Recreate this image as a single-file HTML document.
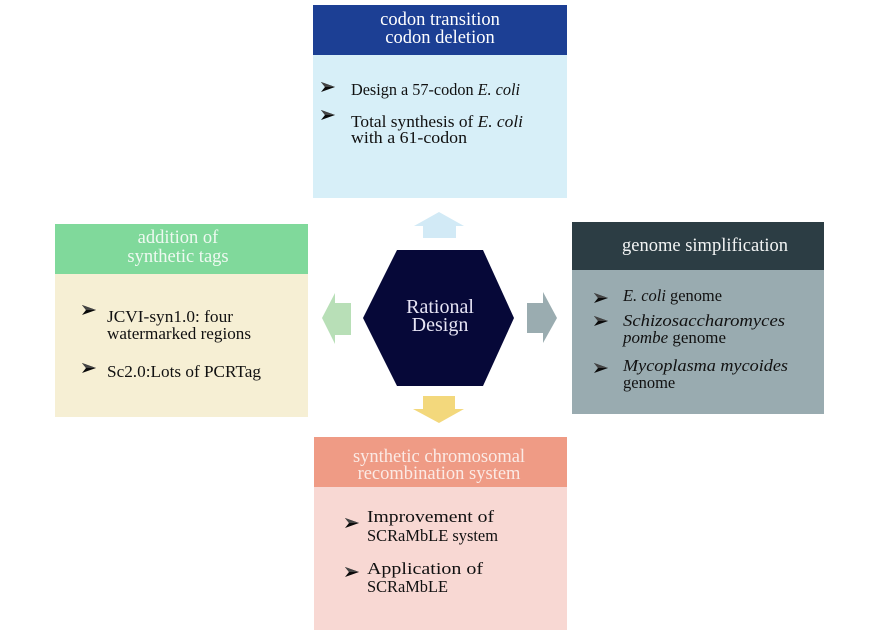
<!DOCTYPE html>
<html>
<head>
<meta charset="utf-8">
<style>
html,body{margin:0;padding:0;background:#fff;}
svg{display:block;}
text{font-family:"Liberation Serif",serif;}
</style>
</head>
<body>
<svg width="880" height="636" viewBox="0 0 880 636" xmlns="http://www.w3.org/2000/svg">
<defs>
<g id="bul">
<polygon points="0,0 14,5 0,10 4,5" fill="#0a0a0a"/>
<polygon points="0,0 14,5 4,5" fill="#444"/>
</g>
</defs>
<rect width="880" height="636" fill="#fff"/>

<!-- TOP BOX -->
<rect x="313" y="5" width="254" height="50" fill="#1c3f94"/>
<rect x="313" y="55" width="254" height="143" fill="#d7eff8"/>
<text x="440" y="25" font-size="18.5" fill="#fff" text-anchor="middle">codon transition</text>
<text x="440" y="43" font-size="18.5" fill="#fff" text-anchor="middle">codon deletion</text>
<use href="#bul" x="321" y="82"/>
<text x="351" y="95" font-size="16.5" fill="#111" textLength="169" lengthAdjust="spacingAndGlyphs">Design a 57-codon <tspan font-style="italic">E. coli</tspan></text>
<use href="#bul" x="321" y="110"/>
<text x="351" y="127" font-size="16.5" fill="#111" textLength="172" lengthAdjust="spacingAndGlyphs">Total synthesis of <tspan font-style="italic">E. coli</tspan></text>
<text x="351" y="143" font-size="16.5" fill="#111" textLength="116" lengthAdjust="spacingAndGlyphs">with a 61-codon</text>

<!-- up arrow -->
<polygon points="439,212 464,226 456,226 456,238 423,238 423,226 414,226" fill="#d2eaf6"/>

<!-- LEFT BOX -->
<rect x="55" y="224" width="253" height="50" fill="#80d99b"/>
<rect x="55" y="274" width="253" height="143" fill="#f6efd4"/>
<text x="178" y="243" font-size="18.5" fill="#eef9f1" text-anchor="middle">addition of</text>
<text x="178" y="262" font-size="18.5" fill="#eef9f1" text-anchor="middle">synthetic tags</text>
<use href="#bul" x="82" y="305"/>
<text x="107" y="322" font-size="17" fill="#111" textLength="126" lengthAdjust="spacingAndGlyphs">JCVI-syn1.0: four</text>
<text x="107" y="339" font-size="17" fill="#111" textLength="144" lengthAdjust="spacingAndGlyphs">watermarked regions</text>
<use href="#bul" x="82" y="363"/>
<text x="107" y="377" font-size="17" fill="#111" textLength="154" lengthAdjust="spacingAndGlyphs">Sc2.0:Lots of PCRTag</text>

<!-- left arrow -->
<polygon points="322,318 335,293 335,303 351,303 351,335 335,335 335,344" fill="#b8dfb7"/>

<!-- HEXAGON -->
<polygon points="363,318 397,250 483,250 514,318 483,386 397,386" fill="#060838"/>
<text x="440" y="313" font-size="20" fill="#e6e4f4" text-anchor="middle">Rational</text>
<text x="440" y="331" font-size="20" fill="#e6e4f4" text-anchor="middle">Design</text>

<!-- right arrow -->
<polygon points="527,303 543,303 543,292 557,318 543,343 543,333 527,333" fill="#9aacb0"/>

<!-- RIGHT BOX -->
<rect x="572" y="222" width="252" height="48" fill="#2c3d44"/>
<rect x="572" y="270" width="252" height="144" fill="#99abb0"/>
<text x="622" y="251" font-size="18.5" fill="#f2f4f4" textLength="166" lengthAdjust="spacingAndGlyphs">genome simplification</text>
<use href="#bul" x="594" y="293"/>
<text x="623" y="301" font-size="16.5" fill="#111" textLength="99" lengthAdjust="spacingAndGlyphs"><tspan font-style="italic">E. coli</tspan> genome</text>
<use href="#bul" x="594" y="316"/>
<text x="623" y="326" font-size="16.5" fill="#111" font-style="italic" textLength="162" lengthAdjust="spacingAndGlyphs">Schizosaccharomyces</text>
<text x="623" y="343" font-size="16.5" fill="#111" textLength="103" lengthAdjust="spacingAndGlyphs"><tspan font-style="italic">pombe</tspan> genome</text>
<use href="#bul" x="594" y="363"/>
<text x="623" y="371" font-size="16.5" fill="#111" font-style="italic" textLength="165" lengthAdjust="spacingAndGlyphs">Mycoplasma mycoides</text>
<text x="623" y="388" font-size="16.5" fill="#111">genome</text>

<!-- down arrow -->
<polygon points="423,396 455,396 455,409 464,409 439,423 413,409 423,409" fill="#f3d87c"/>

<!-- BOTTOM BOX -->
<rect x="314" y="437" width="253" height="50" fill="#ef9b85"/>
<rect x="314" y="487" width="253" height="143" fill="#f8d8d3"/>
<text x="439" y="462" font-size="18.5" fill="#fbeae5" text-anchor="middle">synthetic chromosomal</text>
<text x="439" y="479" font-size="18.5" fill="#fbeae5" text-anchor="middle">recombination system</text>
<use href="#bul" x="345" y="518"/>
<text x="367" y="522" font-size="17" fill="#111" textLength="127" lengthAdjust="spacingAndGlyphs">Improvement of</text>
<text x="367" y="541" font-size="17" fill="#111" textLength="131" lengthAdjust="spacingAndGlyphs">SCRaMbLE system</text>
<use href="#bul" x="345" y="567"/>
<text x="367" y="574" font-size="17" fill="#111" textLength="116" lengthAdjust="spacingAndGlyphs">Application of</text>
<text x="367" y="592" font-size="17" fill="#111" textLength="81" lengthAdjust="spacingAndGlyphs">SCRaMbLE</text>
</svg>
</body>
</html>
